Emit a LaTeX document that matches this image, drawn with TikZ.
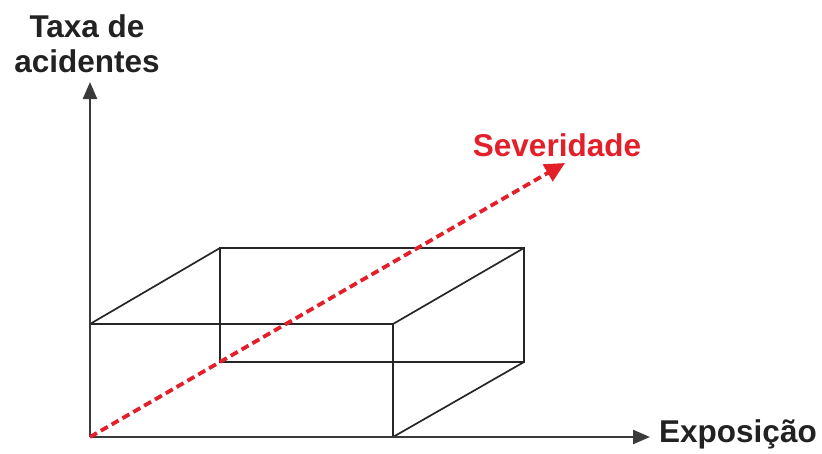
\documentclass[tikz,border=0pt]{standalone}
\usepackage{fontspec}
\setmainfont{Liberation Sans}
\usetikzlibrary{arrows.meta}
\definecolor{axisgray}{HTML}{3A3A3A}
\definecolor{sevred}{HTML}{E3202A}
\definecolor{txtgray}{HTML}{222222}
\begin{document}
\begin{tikzpicture}[x=1pt,y=-1pt,
  axis/.style={draw=axisgray,line width=2.4pt,-{Triangle[length=17pt,width=14pt]}},
  boxline/.style={draw=black!85,line width=1.7pt},
  sev/.style={draw=sevred,line width=3.8pt,dash pattern=on 8pt off 4.5pt,-{Triangle[length=20pt,width=19pt]}},
  lbl/.style={font=\fontsize{31.5}{35}\selectfont\bfseries,inner sep=0pt}]
\useasboundingbox (0,0) rectangle (822,453);
% coordinates
\coordinate (O) at (90,437);
\coordinate (Ytip) at (90,82);
\coordinate (Xtip) at (650,437);
\coordinate (F2) at (393,437);
\coordinate (F3) at (393,324);
\coordinate (F4) at (90,324);
\coordinate (B1) at (220,362);
\coordinate (B2) at (524,362);
\coordinate (B3) at (524,248);
\coordinate (B4) at (220,248);
\coordinate (Stip) at (565,163);
% box
\draw[boxline] (F4) -- (F3) -- (F2);
\draw[boxline] (B1) -- (B2) -- (B3) -- (B4) -- cycle;
\draw[boxline] (F4) -- (B4);
\draw[boxline] (F3) -- (B3);
\draw[boxline] (F2) -- (B2);
% axes
\draw[axis] (O) -- (Ytip);
\draw[axis] (O) -- (Xtip);
% severity
\draw[sev] (O) -- (Stip);
% labels
\node[lbl,text=txtgray,anchor=base] (ytxt1) at (87,37) {Taxa de};
\node[lbl,text=txtgray,anchor=base] (ytxt2) at (87,72) {acidentes};
\node[lbl,text=sevred,anchor=base] (stxt) at (557,156) {Severidade};
\node[lbl,text=txtgray,anchor=base west] (xtxt) at (659,442) {Exposição};
\end{tikzpicture}
\end{document}
